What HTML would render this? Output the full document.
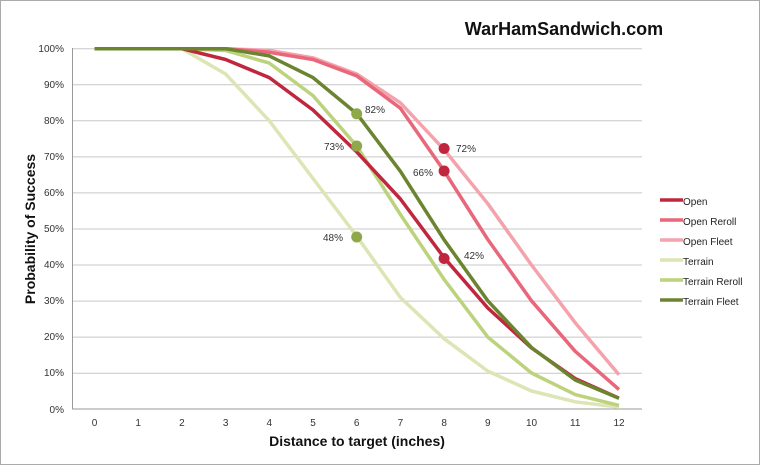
<!DOCTYPE html><html><head><style>body{margin:0;background:#fff}svg{display:block;font-family:"Liberation Sans",sans-serif}</style></head><body>
<svg width="760" height="465" viewBox="0 0 760 465">
<rect x="0.5" y="0.5" width="759" height="464" fill="#fff" stroke="#aaa"/>
<text x="564" y="35" text-anchor="middle" font-size="18" font-weight="bold" fill="#111">WarHamSandwich.com</text>
<g stroke="#c8c8c8" stroke-width="1">
<line x1="72" x2="642" y1="48.7" y2="48.7"/><line x1="72" x2="642" y1="84.8" y2="84.8"/><line x1="72" x2="642" y1="120.8" y2="120.8"/><line x1="72" x2="642" y1="156.9" y2="156.9"/><line x1="72" x2="642" y1="192.9" y2="192.9"/><line x1="72" x2="642" y1="229" y2="229"/><line x1="72" x2="642" y1="265" y2="265"/><line x1="72" x2="642" y1="301.1" y2="301.1"/><line x1="72" x2="642" y1="337.1" y2="337.1"/><line x1="72" x2="642" y1="373.2" y2="373.2"/>
</g>
<line x1="72" x2="642" y1="409" y2="409" stroke="#999"/>
<line x1="72.5" x2="72.5" y1="48" y2="409" stroke="#999"/>
<g font-size="10" fill="#333" text-anchor="end">
<text x="64" y="52">100%</text><text x="64" y="88">90%</text><text x="64" y="124">80%</text><text x="64" y="160">70%</text><text x="64" y="196">60%</text><text x="64" y="232">50%</text><text x="64" y="268">40%</text><text x="64" y="304">30%</text><text x="64" y="340">20%</text><text x="64" y="376">10%</text><text x="64" y="413">0%</text>
</g>
<g font-size="10" fill="#333" text-anchor="middle">
<text x="94.5" y="426">0</text><text x="138.2" y="426">1</text><text x="181.9" y="426">2</text><text x="225.6" y="426">3</text><text x="269.3" y="426">4</text><text x="313" y="426">5</text><text x="356.7" y="426">6</text><text x="400.4" y="426">7</text><text x="444.1" y="426">8</text><text x="487.8" y="426">9</text><text x="531.5" y="426">10</text><text x="575.2" y="426">11</text><text x="619" y="426">12</text>
</g>
<text x="357" y="446" text-anchor="middle" font-size="14" font-weight="bold" fill="#111">Distance to target (inches)</text>
<text transform="translate(35,229) rotate(-90)" text-anchor="middle" font-size="14" font-weight="bold" fill="#111">Probability of Success</text>
<g fill="none" stroke-width="3.5" stroke-linejoin="round">
<polyline stroke="#dbe6b4" points="94.5,48.7 138.2,48.7 181.9,48.7 225.6,74 269.3,120.8 313,178.5 356.7,236.2 400.4,297.5 444.1,338.7 487.8,371.1 531.5,391 575.2,401.8 619,407.2"/>
<polyline stroke="#bcd27c" points="94.5,48.7 138.2,48.7 181.9,48.7 225.6,50.5 269.3,63.1 313,95.6 356.7,146 400.4,214.5 444.1,279.4 487.8,337.1 531.5,373 575.2,394.6 619,405.4"/>
<polyline stroke="#f4a3ad" points="94.5,48.7 138.2,48.7 181.9,48.7 225.6,48.7 269.3,50.5 313,57.8 356.7,74 400.4,102.8 444.1,149.6 487.8,203.7 531.5,265 575.2,322.7 619,374.8"/>
<polyline stroke="#e8677a" points="94.5,48.7 138.2,48.7 181.9,48.7 225.6,48.7 269.3,52.3 313,59.5 356.7,75.8 400.4,108.2 444.1,170.9 487.8,239.5 531.5,300.8 575.2,351.3 619,389.5"/>
<polyline stroke="#c0273e" points="94.5,48.7 138.2,48.7 181.9,48.7 225.6,59.5 269.3,77.6 313,110 356.7,151.9 400.4,199 444.1,257.7 487.8,308 531.5,348 575.2,378.6 619,398.2"/>
<polyline stroke="#6b8430" points="94.5,48.7 138.2,48.7 181.9,48.7 225.6,48.7 269.3,55.9 313,77.6 356.7,113.6 400.4,171.3 444.1,239.8 487.8,300.8 531.5,347.5 575.2,380 619,398.2"/>
</g>
<g fill="#8fa84a"><circle cx="356.7" cy="113.8" r="5.5"/><circle cx="356.7" cy="146" r="5.5"/><circle cx="356.7" cy="237" r="5.5"/></g>
<g fill="#c0273e"><circle cx="444.1" cy="148.5" r="5.5"/><circle cx="444.1" cy="171" r="5.5"/><circle cx="444.1" cy="258.5" r="5.5"/></g>
<g font-size="10" fill="#333">
<text x="365" y="113">82%</text><text x="324" y="150">73%</text><text x="323" y="241">48%</text>
<text x="456" y="152">72%</text><text x="413" y="176">66%</text><text x="464" y="259">42%</text>
</g>
<g stroke-width="3.5">
<line x1="660" x2="683" y1="200" y2="200" stroke="#c0273e"/>
<line x1="660" x2="683" y1="220" y2="220" stroke="#e8677a"/>
<line x1="660" x2="683" y1="240" y2="240" stroke="#f4a3ad"/>
<line x1="660" x2="683" y1="260" y2="260" stroke="#dbe6b4"/>
<line x1="660" x2="683" y1="280" y2="280" stroke="#bcd27c"/>
<line x1="660" x2="683" y1="300" y2="300" stroke="#6b8430"/>
</g>
<g font-size="10" fill="#222">
<text x="683" y="205">Open</text><text x="683" y="225">Open Reroll</text><text x="683" y="245">Open Fleet</text><text x="683" y="265">Terrain</text><text x="683" y="285">Terrain Reroll</text><text x="683" y="305">Terrain Fleet</text>
</g>
</svg></body></html>
